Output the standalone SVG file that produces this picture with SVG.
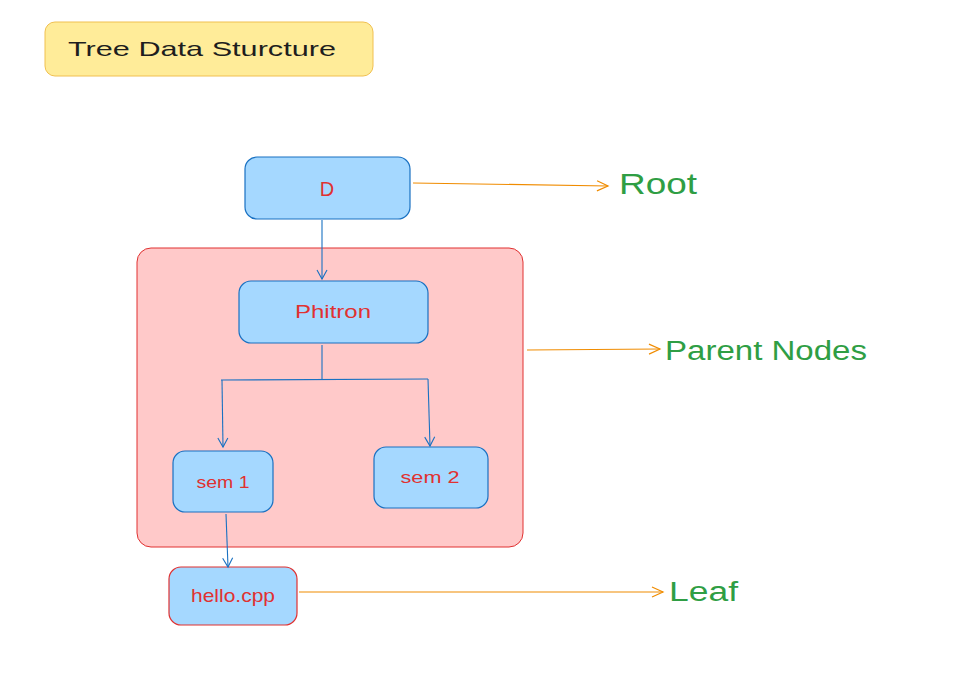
<svg xmlns="http://www.w3.org/2000/svg" width="957" height="691" viewBox="0 0 957 691">
<defs>
<style>
.node{fill:#a5d8ff;stroke:#1971c2;stroke-width:1.2}
.lbl{font-family:"Liberation Sans","Noto Sans",sans-serif;fill:#e03131;text-anchor:middle}
.side{font-family:"Liberation Sans","Noto Sans",sans-serif;fill:#2f9e44}
.blue{fill:none;stroke:#1971c2;stroke-width:1.1}
.orange{fill:none;stroke:#f08c00;stroke-width:1.2}
</style>
<marker id="ab" markerWidth="12" markerHeight="12" refX="10" refY="6" orient="auto" markerUnits="userSpaceOnUse">
<path d="M1,1 L10,6 L1,11" fill="none" stroke="#1971c2" stroke-width="1.1"/>
</marker>
<marker id="ao" markerWidth="14" markerHeight="12" refX="12" refY="6" orient="auto" markerUnits="userSpaceOnUse">
<path d="M1,1 L12,6 L1,11" fill="none" stroke="#f08c00" stroke-width="1.2"/>
</marker>
</defs>
<rect width="957" height="691" fill="#ffffff"/>
<g id="title">
<rect x="45" y="22" width="328" height="54" rx="10" fill="#ffec99" stroke="#f0c050" stroke-width="1"/>
<text x="68" y="56" font-family="Liberation Sans,Noto Sans,sans-serif" font-size="21" fill="#1e1e1e" textLength="268" lengthAdjust="spacingAndGlyphs">Tree Data Sturcture</text>
</g>
<g id="parent-group">
<rect x="137" y="248" width="386" height="299" rx="14" fill="#ffc9c9" stroke="#e03131" stroke-width="1"/>
</g>
<g id="node-d">
<rect class="node" x="245" y="157" width="165" height="62" rx="12"/>
<text class="lbl" x="327" y="196" font-size="20">D</text>
</g>
<g id="node-phitron">
<rect class="node" x="239" y="281" width="189" height="62" rx="12"/>
<text class="lbl" x="333" y="318" font-size="18" textLength="76" lengthAdjust="spacingAndGlyphs">Phitron</text>
</g>
<g id="node-sem1">
<rect class="node" x="173" y="451" width="100" height="61" rx="12"/>
<text class="lbl" x="223" y="488" font-size="17" textLength="53" lengthAdjust="spacingAndGlyphs">sem 1</text>
</g>
<g id="node-sem2">
<rect class="node" x="374" y="447" width="114" height="61" rx="12"/>
<text class="lbl" x="430" y="483" font-size="17" textLength="59" lengthAdjust="spacingAndGlyphs">sem 2</text>
</g>
<g id="node-hello">
<rect x="169" y="567" width="128" height="58" rx="12" fill="#a5d8ff" stroke="#e03131" stroke-width="1.2"/>
<text class="lbl" x="233" y="602" font-size="19" textLength="84" lengthAdjust="spacingAndGlyphs">hello.cpp</text>
</g>
<g id="label-root"><text class="side" x="619" y="194" font-size="29" textLength="78" lengthAdjust="spacingAndGlyphs">Root</text></g>
<g id="label-parent"><text class="side" x="665" y="360" font-size="27" textLength="202" lengthAdjust="spacingAndGlyphs">Parent Nodes</text></g>
<g id="label-leaf"><text class="side" x="669" y="601" font-size="27" textLength="69" lengthAdjust="spacingAndGlyphs">Leaf</text></g>
<g id="connectors">
<path class="blue" d="M322,220 L322,279" marker-end="url(#ab)"/>
<path class="blue" d="M322,345 L322,379"/>
<path class="blue" d="M221,380 L428,379"/>
<path class="blue" d="M222,380 L223,447" marker-end="url(#ab)"/>
<path class="blue" d="M428,379 L430,446" marker-end="url(#ab)"/>
<path class="blue" d="M226,514 L228,567" marker-end="url(#ab)"/>
<path class="orange" d="M413,183 L608,186" marker-end="url(#ao)"/>
<path class="orange" d="M527,350 L660,349" marker-end="url(#ao)"/>
<path class="orange" d="M299,592 L663,592" marker-end="url(#ao)"/>
</g>
</svg>
